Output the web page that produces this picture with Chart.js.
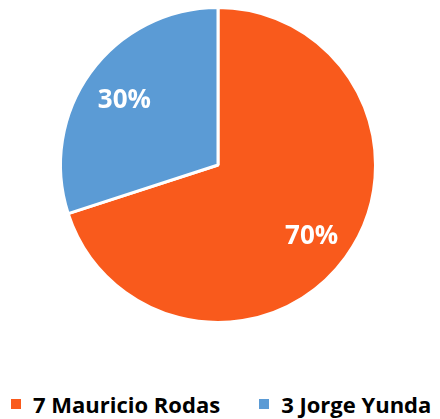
<!DOCTYPE html>
<html>
<head>
<meta charset="utf-8">
<script src="https://cdn.jsdelivr.net/npm/chart.js@4/dist/chart.umd.min.js"></script>
<style>
  html, body { margin: 0; padding: 0; background: #fff; }
  #wrap { position: relative; width: 440px; height: 419px; }
  #legend { position: absolute; left: 11px; top: 389px; display: flex; align-items: center;
            font: bold 22px 'Open Sans', sans-serif; color: #000; white-space: nowrap; }
  .item { display: flex; align-items: center; margin-right: 39px; }
  .box { width: 10px; height: 10px; margin-right: 12px; }
</style>
</head>
<body>
<div id="wrap">
  <canvas id="chart" width="440" height="340"></canvas>
  <div id="legend"></div>
</div>
<script>
const labels = ["7 Mauricio Rodas", "3 Jorge Yunda"];
const values = [70, 30];
const colors = ["#F95A1C", "#5B9BD5"];

// Draw percentage labels inside each slice
const sliceLabels = {
  id: "sliceLabels",
  afterDatasetsDraw(chart) {
    const ctx = chart.ctx;
    const meta = chart.getDatasetMeta(0);
    const total = values.reduce((a, b) => a + b, 0);
    ctx.save();
    ctx.fillStyle = "#fff";
    ctx.font = "bold 26px 'Open Sans'";
    ctx.textAlign = "center";
    ctx.textBaseline = "middle";
    meta.data.forEach((arc, i) => {
      const mid = (arc.startAngle + arc.endAngle) / 2;
      const r = arc.outerRadius * 0.735;
      const x = arc.x + Math.cos(mid) * r;
      const y = arc.y + Math.sin(mid) * r + 4;
      ctx.fillText(Math.round(values[i] / total * 100) + "%", x, y);
    });
    ctx.restore();
  }
};

new Chart(document.getElementById("chart"), {
  type: "pie",
  data: {
    labels,
    datasets: [{
      data: values,
      backgroundColor: colors,
      borderColor: "#fff",
      borderWidth: 3
    }]
  },
  options: {
    responsive: false,
    animation: false,
    layout: { padding: { top: 6, bottom: 16, left: 0, right: 4 } },
    plugins: {
      tooltip: { enabled: false },
      legend: { display: false }
    }
  },
  plugins: [sliceLabels]
});

// legend below the pie
const legend = document.getElementById("legend");
labels.forEach((l, i) => {
  const item = document.createElement("div");
  item.className = "item";
  const box = document.createElement("span");
  box.className = "box";
  box.style.background = colors[i];
  item.appendChild(box);
  item.appendChild(document.createTextNode(l));
  legend.appendChild(item);
});
</script>
</body>
</html>
